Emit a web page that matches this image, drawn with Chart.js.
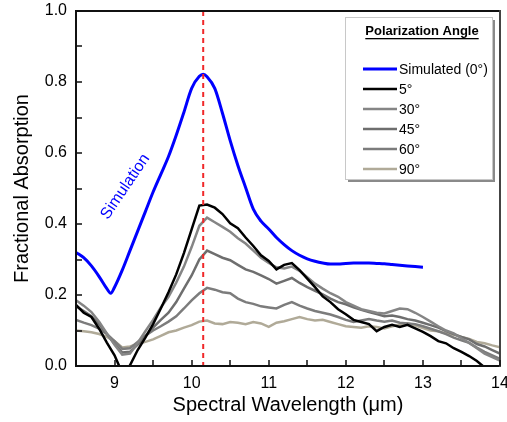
<!DOCTYPE html>
<html><head><meta charset="utf-8">
<script src="https://cdn.jsdelivr.net/npm/chart.js@4.4.1/dist/chart.umd.min.js"></script>
<style>html,body{margin:0;padding:0;background:#fff}#wrap{width:507px;height:422px}</style>
</head><body><div id="wrap"><canvas id="c" width="507" height="422"></canvas></div>
<script>
const wavelengths = [8.5,8.6,8.7,8.8,8.9,9.0,9.1,9.2,9.3,9.4,9.5,9.6,9.7,9.8,9.9,10.0,10.1,10.2,10.3,10.4,10.5,10.6,10.7,10.8,10.9,11.0,11.1,11.2,11.3,11.4,11.5,11.6,11.7,11.8,11.9,12.0,12.1,12.2,12.3,12.4,12.5,12.6,12.7,12.8,12.9,13.0,13.1,13.2,13.3,13.4,13.5,13.6,13.7,13.8,13.9,14.0];
const angle5  = [0.172,0.150,0.138,0.105,0.066,0.030,-0.020,0.002,0.045,0.080,0.118,0.162,0.208,0.258,0.318,0.385,0.452,0.455,0.446,0.428,0.402,0.388,0.362,0.338,0.312,0.296,0.272,0.285,0.290,0.270,0.246,0.222,0.196,0.180,0.160,0.146,0.130,0.124,0.118,0.098,0.110,0.116,0.110,0.116,0.106,0.096,0.084,0.070,0.064,0.050,0.040,0.028,0.014,-0.004,-0.020,-0.030];
const angle30 = [0.185,0.170,0.152,0.125,0.092,0.060,0.032,0.035,0.065,0.098,0.130,0.165,0.195,0.235,0.280,0.335,0.395,0.418,0.405,0.392,0.378,0.360,0.345,0.325,0.305,0.290,0.278,0.275,0.280,0.268,0.250,0.232,0.218,0.205,0.195,0.180,0.170,0.160,0.155,0.150,0.148,0.155,0.162,0.160,0.150,0.138,0.125,0.112,0.100,0.092,0.078,0.065,0.050,0.035,0.025,0.015];
const angle45 = [0.168,0.155,0.140,0.118,0.090,0.062,0.038,0.040,0.060,0.085,0.108,0.130,0.150,0.180,0.218,0.255,0.300,0.325,0.315,0.305,0.298,0.285,0.272,0.265,0.255,0.245,0.232,0.240,0.248,0.234,0.222,0.212,0.202,0.190,0.180,0.174,0.165,0.158,0.152,0.146,0.140,0.142,0.138,0.132,0.128,0.122,0.115,0.108,0.098,0.090,0.082,0.075,0.062,0.055,0.045,0.035];
const angle60 = [0.130,0.122,0.115,0.105,0.090,0.070,0.048,0.050,0.068,0.085,0.100,0.112,0.125,0.140,0.162,0.185,0.205,0.220,0.215,0.208,0.205,0.190,0.180,0.175,0.168,0.165,0.162,0.172,0.180,0.170,0.162,0.155,0.150,0.145,0.138,0.130,0.124,0.128,0.132,0.128,0.125,0.128,0.122,0.120,0.118,0.112,0.105,0.098,0.090,0.080,0.072,0.065,0.052,0.040,0.030,0.020];
const angle90 = [0.100,0.098,0.095,0.090,0.082,0.070,0.052,0.055,0.062,0.068,0.075,0.085,0.095,0.100,0.108,0.115,0.125,0.128,0.120,0.118,0.124,0.122,0.118,0.124,0.120,0.110,0.122,0.126,0.132,0.138,0.132,0.128,0.130,0.124,0.118,0.112,0.110,0.108,0.112,0.110,0.106,0.112,0.116,0.120,0.114,0.107,0.100,0.098,0.092,0.088,0.082,0.076,0.068,0.064,0.058,0.053];
const simWavelengths = [8.5,8.6,8.7,8.8,8.9,8.95,9.0,9.1,9.2,9.3,9.4,9.5,9.6,9.7,9.8,9.9,10.0,10.1,10.15,10.2,10.3,10.4,10.5,10.6,10.7,10.8,10.9,11.0,11.1,11.2,11.3,11.4,11.5,11.6,11.7,11.8,11.9,12.0,12.1,12.2,12.3,12.4,12.5,12.6,12.7,12.8,12.9,13.0];
const simulated = [0.320,0.305,0.282,0.252,0.218,0.205,0.222,0.270,0.325,0.380,0.435,0.490,0.540,0.590,0.650,0.715,0.782,0.816,0.822,0.815,0.782,0.712,0.635,0.565,0.503,0.442,0.408,0.386,0.362,0.342,0.325,0.312,0.302,0.295,0.290,0.287,0.287,0.289,0.290,0.290,0.290,0.289,0.288,0.286,0.284,0.282,0.280,0.278];
const seriesNames = ['Simulated (0\u00B0)','5\u00B0','30\u00B0','45\u00B0','60\u00B0','90\u00B0'];
const xTicks = [9,10,11,12,13,14];
const yTicks = [0,0.2,0.4,0.6,0.8,1.0];
const peakWavelength = 10.15;
const labelPos = {x: 9.14, y: 0.505, text: 'Simulation'};

const colors = ['#0000ff','#000000','#858585','#6e6e6e','#7c7c7c','#b0aa98'];
const widths = [3,2.5,2.5,2.5,2.5,2.5];
const pts = (xs, ys) => xs.map((x,i)=>({x, y: ys[i]}));
const seriesData = [pts(simWavelengths, simulated), pts(wavelengths, angle5), pts(wavelengths, angle30), pts(wavelengths, angle45), pts(wavelengths, angle60), pts(wavelengths, angle90)];

const datasets = seriesData.map((d,i)=>({
  label: seriesNames[i], data: d, borderColor: colors[i], borderWidth: widths[i],
  pointRadius: 0, fill: false, tension: i===0 ? 0.4 : 0, cubicInterpolationMode: i===0 ? 'monotone':'default', order: i
}));

const FONT = 'Arial, "Liberation Sans", sans-serif';

const decor = {
  id: 'decor',
  afterDatasetsDraw(chart) {
    const {ctx, chartArea: a, scales: {x}} = chart;
    ctx.save();
    const px = x.getPixelForValue(peakWavelength);
    ctx.strokeStyle = '#f0282a'; ctx.lineWidth = 2; ctx.setLineDash([5,4]);
    ctx.beginPath(); ctx.moveTo(px, a.top); ctx.lineTo(px, a.bottom); ctx.stroke();
    ctx.restore();
  },
  afterDraw(chart) {
    const ctx = chart.ctx;
    const x = chart.scales.x, y = chart.scales.y;
    const left = x.left, right = x.right, top = y.top, bottom = y.bottom;
    ctx.save();
    ctx.setLineDash([]);
    ctx.save();
    ctx.fillStyle = '#0000ff'; ctx.font = '16px ' + FONT;
    ctx.translate(x.getPixelForValue(labelPos.x), y.getPixelForValue(labelPos.y));
    ctx.rotate(-56*Math.PI/180);
    ctx.textAlign = 'center'; ctx.textBaseline = 'middle';
    ctx.fillText(labelPos.text, 0, 0);
    ctx.restore();

    // frame
    ctx.fillStyle = '#111';
    ctx.fillRect(left - 1, top - 1, right - left + 2, 2);
    ctx.fillRect(left - 1, bottom - 1, right - left + 2, 2);
    ctx.fillRect(left - 1, top - 1, 2, bottom - top + 2);
    ctx.fillStyle = '#444';
    ctx.fillRect(right - 1, top - 1, 2, bottom - top + 2);
    ctx.fillStyle = '#111';
    const tl = 6;
    const xs = [];
    xTicks.forEach((v,i)=>{ xs.push(v); if (i>0) xs.push((v + xTicks[i-1])/2); });
    xs.push(xTicks[0] - (xTicks[1]-xTicks[0])/2);
    xs.forEach(v=>{ const p = Math.round(x.getPixelForValue(v)); ctx.fillRect(p - 0.75, bottom - tl, 1.5, tl); });
    const ys = [];
    yTicks.forEach((v,i)=>{ ys.push(v); if (i>0) ys.push((v + yTicks[i-1])/2); });
    ys.forEach(v=>{ const p = Math.round(y.getPixelForValue(v)); ctx.fillRect(left, p - 0.75, tl, 1.5); });

    // legend
    const L = 345, T = 17, R = 492, B = 179;
    ctx.fillStyle = '#8a8a8a';
    ctx.fillRect(L + 3, B, R - L, 3);
    ctx.fillRect(R, T + 3, 3, B - T);
    ctx.fillStyle = '#ffffff'; ctx.fillRect(L, T, R - L, B - T);
    ctx.strokeStyle = '#c8c8c8'; ctx.lineWidth = 1; ctx.strokeRect(L + 0.5, T + 0.5, R - L, B - T);
    ctx.fillStyle = '#000'; ctx.font = 'bold 13px ' + FONT; ctx.textAlign = 'center'; ctx.textBaseline = 'middle';
    const title = 'Polarization Angle';
    const cx = 422, ty = 31;
    ctx.fillText(title, cx, ty);
    const tw = ctx.measureText(title).width;
    ctx.fillRect(cx - tw/2, ty + 7, tw, 1.3);
    ctx.font = '14px ' + FONT; ctx.textAlign = 'left';
    seriesNames.forEach((n,i)=>{
      const yy = 69 + i*20;
      ctx.strokeStyle = colors[i]; ctx.lineWidth = i===0 ? 3 : 2.5;
      ctx.beginPath(); ctx.moveTo(363, yy); ctx.lineTo(397, yy); ctx.stroke();
      ctx.fillStyle = '#000'; ctx.fillText(n, 399, yy + 1);
    });
    ctx.restore();
  }
};

const noPad = s => { s.paddingTop = 0; s.paddingBottom = 0; s.paddingLeft = 0; s.paddingRight = 0; };

new Chart(document.getElementById('c'), {
  type: 'line',
  data: { datasets },
  options: {
    responsive: false, animation: false, devicePixelRatio: 1,
    layout: { padding: { top: 11, right: 7, left: 0, bottom: 0 } },
    plugins: { legend: { display: false }, tooltip: { enabled: false } },
    scales: {
      x: {
        type: 'linear', min: 8.5, max: 14,
        afterFit(s) { s.height = 56; noPad(s); },
        afterBuildTicks(s) { s.ticks = xTicks.map(v=>({value: v})); },
        grid: { display: false, drawTicks: false }, border: { display: false },
        ticks: { padding: 8, color: '#000', font: { family: FONT, size: 16 }, maxRotation: 0, autoSkip: false },
        title: { display: true, text: 'Spectral Wavelength (\u03BCm)', color: '#000', font: { family: FONT, size: 20 }, padding: { top: 0, bottom: 5 } }
      },
      y: {
        type: 'linear', min: 0, max: 1.0,
        afterFit(s) { s.width = 76; noPad(s); },
        afterBuildTicks(s) { s.ticks = yTicks.map(v=>({value: v})); },
        grid: { display: false, drawTicks: false }, border: { display: false },
        ticks: { padding: 9, color: '#000', font: { family: FONT, size: 16 }, callback: v => v.toFixed(1) },
        title: { display: true, text: 'Fractional Absorption', color: '#000', font: { family: FONT, size: 20 }, padding: { top: 10, bottom: 0 } }
      }
    }
  },
  plugins: [decor]
});
</script>
</body></html>
